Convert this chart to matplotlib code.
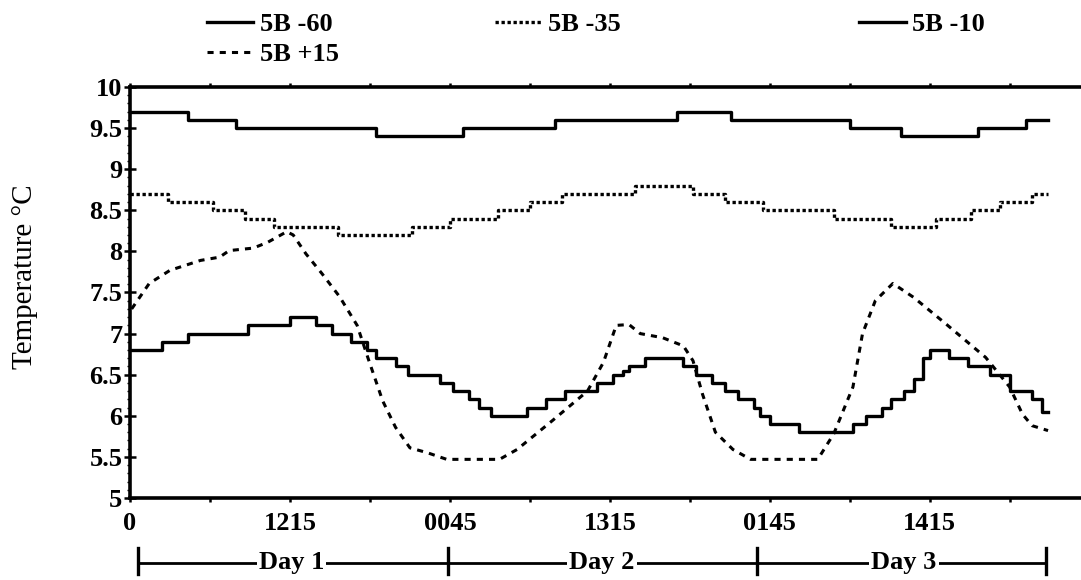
import matplotlib
matplotlib.use("Agg")
import matplotlib.pyplot as plt
from matplotlib.ticker import MultipleLocator

plt.rcParams['font.family'] = ['Liberation Serif', 'DejaVu Serif']

# sample index (15 min readings) where each step starts, and the reading
x_60 = [0, 18, 33, 77, 104, 133, 171, 188, 225, 241, 265, 280, 287]
t_60 = [9.7, 9.6, 9.5, 9.4, 9.5, 9.6, 9.7, 9.6, 9.5, 9.4, 9.5, 9.6, 9.6]

x_35 = [0, 12, 26, 36, 45, 65, 88, 100, 115, 125, 135, 158, 176, 186, 198,
        220, 238, 252, 263, 272, 282, 287]
t_35 = [8.7, 8.6, 8.5, 8.4, 8.3, 8.2, 8.3, 8.4, 8.5, 8.6, 8.7, 8.8, 8.7, 8.6,
        8.5, 8.4, 8.3, 8.4, 8.5, 8.6, 8.7, 8.7]

x_10 = [0, 10, 18, 37, 50, 58, 63, 69, 74, 77, 83, 87, 97, 101, 106, 109, 113,
        124, 130, 136, 146, 151, 154, 156, 161, 173, 177, 182, 186, 190, 195,
        197, 200, 209, 226, 230, 235, 238, 242, 245, 248, 250, 256, 262, 269,
        275, 282, 285, 287]
t_10 = [6.8, 6.9, 7.0, 7.1, 7.2, 7.1, 7.0, 6.9, 6.8, 6.7, 6.6, 6.5, 6.4, 6.3,
        6.2, 6.1, 6.0, 6.1, 6.2, 6.3, 6.4, 6.5, 6.55, 6.6, 6.7, 6.6, 6.5, 6.4,
        6.3, 6.2, 6.1, 6.0, 5.9, 5.8, 5.9, 6.0, 6.1, 6.2, 6.3, 6.45, 6.7, 6.8,
        6.7, 6.6, 6.5, 6.3, 6.2, 6.05, 6.05]

x_15 = [0.5, 6, 12.5, 22, 28, 31, 38.5, 43, 49, 51, 55, 60, 65.5, 71, 74.5, 79,
        83, 87.5, 93, 99, 115.5, 121, 132, 143, 148, 152, 156, 159.5, 166.5,
        173, 176, 179, 183, 188.5, 194, 215, 220, 226, 229, 233, 238.5, 245,
        255, 267.5, 275, 279, 282, 287]
t_15 = [7.30, 7.61, 7.77, 7.89, 7.93, 8.01, 8.04, 8.11, 8.24, 8.2, 7.97, 7.73,
        7.45, 7.1, 6.69, 6.18, 5.86, 5.61, 5.55, 5.47, 5.47, 5.59, 5.94, 6.30,
        6.65, 7.1, 7.11, 7.0, 6.95, 6.85, 6.67, 6.26, 5.80, 5.59, 5.47, 5.47,
        5.78, 6.35, 7.0, 7.40, 7.61, 7.44, 7.12, 6.71, 6.35, 6.02, 5.88, 5.82]

x_ticks = [0, 50, 100, 150, 200, 250]
x_labels = ['0', '1215', '0045', '1315', '0145', '1415']
y_ticks = [5, 5.5, 6, 6.5, 7, 7.5, 8, 8.5, 9, 9.5, 10]
y_labels = ['5', '5.5', '6', '6.5', '7', '7.5', '8', '8.5', '9', '9.5', '10']

day_names = ['Day 1', 'Day 2', 'Day 3']
day_mid = [50.5, 147.5, 242]
day_edges = [2.5, 99.5, 196, 286.5]

fig = plt.figure(figsize=(10.81, 5.80), dpi=100)
ax = fig.add_axes([0.1203, 0.1414, 0.8788, 0.7086])

l60, = ax.plot(x_60, t_60, drawstyle='steps-post', color='black', lw=2.4)
l35, = ax.plot(x_35, t_35, drawstyle='steps-post', color='black', lw=2.4,
               linestyle=(0, (1, 0.8)))
l10, = ax.plot(x_10, t_10, drawstyle='steps-post', color='black', lw=2.4)
l15, = ax.plot(x_15, t_15, color='black', lw=2.2, linestyle=(0, (2, 2)))

ax.set_xlim(0, 297)
ax.set_ylim(5, 10)
ax.set_xticks(x_ticks)
ax.set_xticklabels(x_labels)
ax.set_yticks(y_ticks)
ax.set_yticklabels(y_labels)
ax.xaxis.set_minor_locator(MultipleLocator(25))
ax.yaxis.set_minor_locator(MultipleLocator(0.1))

ax.spines['right'].set_visible(False)
for s in ['top', 'bottom', 'left']:
    ax.spines[s].set_linewidth(2.6)

ax.tick_params(axis='y', which='major', direction='inout', length=9, width=1.8,
               labelsize=19, pad=1)
ax.tick_params(axis='y', which='minor', direction='out', length=2, width=1)
ax.tick_params(axis='x', which='both', direction='out', length=3, width=1.8,
               top=True, labelsize=19, pad=7)
for lab in ax.get_xticklabels() + ax.get_yticklabels():
    lab.set_fontweight('bold')

ax.set_ylabel('Temperature °C', fontsize=21)
ax.yaxis.set_label_coords(-0.097, 0.538)

# day bar under the axis
trans = ax.get_xaxis_transform()
ax.plot([day_edges[0], day_edges[-1]], [-0.158, -0.158], transform=trans,
        clip_on=False, color='black', lw=2)
for e in day_edges:
    ax.plot([e, e], [-0.122, -0.185], transform=trans, clip_on=False,
            color='black', lw=2.4)
for c, n in zip(day_mid, day_names):
    ax.text(c, -0.158, n, transform=trans, ha='center', va='center',
            fontsize=19, fontweight='bold',
            bbox=dict(facecolor='white', edgecolor='none', pad=1.5))

prop = dict(size=19, weight='bold')
kw = dict(loc='upper left', frameon=False, handlelength=1.75, handletextpad=0.25,
          labelspacing=0.24, borderaxespad=0, borderpad=0, prop=prop)
fig.legend([l60, l15], ['5B -60', '5B +15'], bbox_to_anchor=(0.1915, 0.978), **kw)
fig.legend([l35], ['5B -35'], bbox_to_anchor=(0.458, 0.978), **kw)
fig.legend([l10], ['5B -10'], bbox_to_anchor=(0.795, 0.978), **kw)

fig.savefig('out.png', dpi=100)
